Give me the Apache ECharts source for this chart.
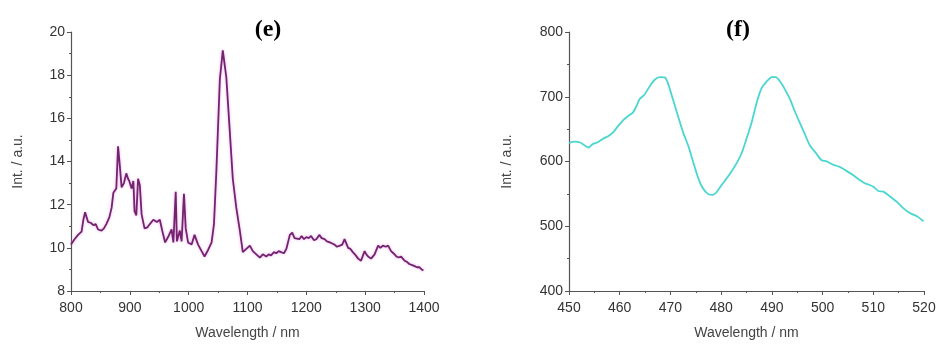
<!DOCTYPE html>
<html>
<head>
<meta charset="utf-8">
<script src="https://cdn.jsdelivr.net/npm/echarts@6/dist/echarts.min.js"></script>
<style>
  html, body { margin: 0; padding: 0; background: #fff; }
  #main { width: 939px; height: 345px; }
</style>
</head>
<body>
<div id="main"></div>
<script>
// 左图 (e): 波长 800-1400 nm
var wavelengthE = [800, 806, 812, 818, 821, 824, 829, 834, 838, 842, 846, 852, 856, 860, 865, 869, 872, 877, 880, 883, 886, 890, 894, 897, 899, 903, 906, 908, 911, 914, 917, 920, 925, 930, 934, 940, 946, 951, 955, 960, 965, 971, 974, 978, 980, 985, 988, 992, 995, 999, 1005, 1010, 1016, 1022, 1027, 1033, 1039, 1043, 1047, 1053, 1058, 1064, 1070, 1075, 1081, 1087, 1092, 1098, 1104, 1109, 1115, 1121, 1126, 1132, 1136, 1140, 1145, 1149, 1153, 1157, 1162, 1166, 1172, 1176, 1180, 1183, 1188, 1192, 1196, 1200, 1204, 1208, 1213, 1217, 1222, 1226, 1231, 1235, 1240, 1244, 1248, 1252, 1257, 1261, 1265, 1271, 1275, 1279, 1284, 1288, 1293, 1299, 1302, 1305, 1310, 1316, 1322, 1326, 1330, 1335, 1339, 1344, 1348, 1353, 1357, 1361, 1364, 1367, 1371, 1375, 1380, 1384, 1388, 1392, 1396, 1399];
var intensityE = [10.15, 10.4, 10.6, 10.75, 11.3, 11.65, 11.2, 11.15, 11.05, 11.1, 10.85, 10.8, 10.9, 11.1, 11.4, 11.85, 12.55, 12.75, 14.7, 13.8, 12.8, 13.0, 13.45, 13.2, 13.1, 12.75, 13.1, 11.7, 11.5, 13.2, 12.9, 11.55, 10.9, 10.95, 11.1, 11.3, 11.2, 11.3, 10.8, 10.25, 10.5, 10.85, 10.25, 12.6, 10.3, 10.8, 10.3, 12.5, 10.9, 10.25, 10.15, 10.6, 10.15, 9.85, 9.6, 9.9, 10.25, 11.1, 13.5, 17.8, 19.15, 17.9, 15.35, 13.2, 11.85, 10.8, 9.8, 9.95, 10.1, 9.85, 9.7, 9.55, 9.7, 9.6, 9.7, 9.65, 9.8, 9.75, 9.85, 9.8, 9.75, 9.95, 10.6, 10.7, 10.45, 10.5, 10.4, 10.55, 10.4, 10.5, 10.45, 10.55, 10.35, 10.4, 10.6, 10.45, 10.4, 10.3, 10.25, 10.2, 10.15, 10.05, 10.1, 10.15, 10.4, 10.0, 9.95, 9.8, 9.65, 9.5, 9.4, 9.85, 9.7, 9.6, 9.5, 9.7, 10.1, 10.0, 10.1, 10.05, 10.1, 9.85, 9.75, 9.6, 9.55, 9.6, 9.5, 9.4, 9.35, 9.25, 9.2, 9.15, 9.1, 9.1, 9.0, 8.95];

// 右图 (f): 波长 450-520 nm
var wavelengthF = [450, 451.1, 452.1, 453.1, 453.9, 454.7, 455.7, 456.7, 457.7, 458.7, 459.7, 460.7, 461.6, 462.6, 463.3, 463.9, 464.9, 465.9, 466.9, 467.9, 468.9, 469.5, 470.5, 471.5, 472.5, 473.5, 474.5, 475.5, 476.4, 477.4, 478.3, 479.1, 480.1, 481.1, 482, 483, 484, 485, 486, 487, 488, 489, 490, 490.8, 491.6, 492.6, 493.6, 494.5, 495.5, 496.5, 497.5, 498.8, 499.8, 500.8, 502.1, 503.4, 504.7, 506, 507.4, 508.4, 509.3, 510, 511, 512, 513.3, 514.6, 515.9, 517.2, 518.6, 519.9];
var intensityF = [628.7, 630.7, 629.7, 624.6, 621.6, 627, 629.7, 635, 639, 645, 655, 664, 670, 675.5, 685.6, 696, 703.4, 716, 726.3, 730.4, 730, 721, 696, 670, 645, 624.6, 599, 574, 558.6, 550, 548.4, 552.5, 563.7, 574, 584, 596.7, 612, 635, 660, 690.7, 713.6, 723.8, 730.4, 730.4, 723.8, 711, 696, 678, 660, 642.4, 624.6, 612, 601.8, 600.3, 595, 591.6, 585.5, 579, 571, 566, 563.7, 561, 554.5, 553.5, 546, 538, 528, 520.5, 515.4, 507.8];

function zipPairs(xs, ys) {
  var out = [];
  for (var i = 0; i < xs.length; i++) out.push([xs[i], ys[i]]);
  return out;
}

var myChart = echarts.init(document.getElementById("main"));

var axisColor = "#555";
var labelStyle = { color: "#333", fontSize: 14, fontFamily: "Liberation Sans, Arial" };
var nameStyle = { color: "#444", fontSize: 14, fontFamily: "Liberation Sans, Arial" };
var plain = function (v) { return String(v); }; // 不要千位分隔符

function xAxisCfg(idx, min, max, interval) {
  return {
    type: "value", gridIndex: idx, min: min, max: max, interval: interval,
    name: "Wavelength / nm", nameLocation: "middle", nameGap: 35, nameTextStyle: nameStyle,
    axisLine: { lineStyle: { color: axisColor, width: 1.2 } },
    axisTick: { length: 4, lineStyle: { color: axisColor } },
    minorTick: { show: true, splitNumber: 2, length: 2, lineStyle: { color: axisColor } },
    axisLabel: Object.assign({ margin: 10, formatter: plain }, labelStyle), splitLine: { show: false }
  };
}
function yAxisCfg(idx, min, max, interval, gap) {
  return {
    type: "value", gridIndex: idx, min: min, max: max, interval: interval,
    name: "Int. / a.u.", nameLocation: "middle", nameGap: gap, nameTextStyle: nameStyle,
    axisLine: { show: true, lineStyle: { color: axisColor, width: 1.2 } },
    axisTick: { show: true, length: 4, lineStyle: { color: axisColor } },
    minorTick: { show: true, splitNumber: 2, length: 2, lineStyle: { color: axisColor } },
    axisLabel: Object.assign({ margin: 6, formatter: plain }, labelStyle), splitLine: { show: false }
  };
}

var option = {
  animation: false,
  title: [
    { text: "(e)", left: 263, top: 13, textAlign: "center",
      textStyle: { fontFamily: "Liberation Serif, Times New Roman", fontWeight: "bold", fontSize: 24, color: "#000" } },
    { text: "(f)", left: 733, top: 13, textAlign: "center",
      textStyle: { fontFamily: "Liberation Serif, Times New Roman", fontWeight: "bold", fontSize: 24, color: "#000" } }
  ],
  grid: [
    { left: 71, top: 32, width: 353, height: 262 },
    { left: 569, top: 32, width: 355, height: 262 }
  ],
  xAxis: [xAxisCfg(0, 800, 1400, 100), xAxisCfg(1, 450, 520, 10)],
  yAxis: [yAxisCfg(0, 8, 20, 2, 46), yAxisCfg(1, 400, 800, 100, 55)],
  series: [
    { type: "line", xAxisIndex: 0, yAxisIndex: 0, data: zipPairs(wavelengthE, intensityE),
      showSymbol: false, lineStyle: { color: "#74246f", width: 1.8, shadowColor: "rgba(220,120,220,0.6)", shadowBlur: 3 } },
    { type: "line", xAxisIndex: 1, yAxisIndex: 1, data: zipPairs(wavelengthF, intensityF),
      showSymbol: false, smooth: 0.2, lineStyle: { color: "#4ad6d0", width: 1.8 } }
  ]
};

myChart.setOption(option);
</script>
</body>
</html>
